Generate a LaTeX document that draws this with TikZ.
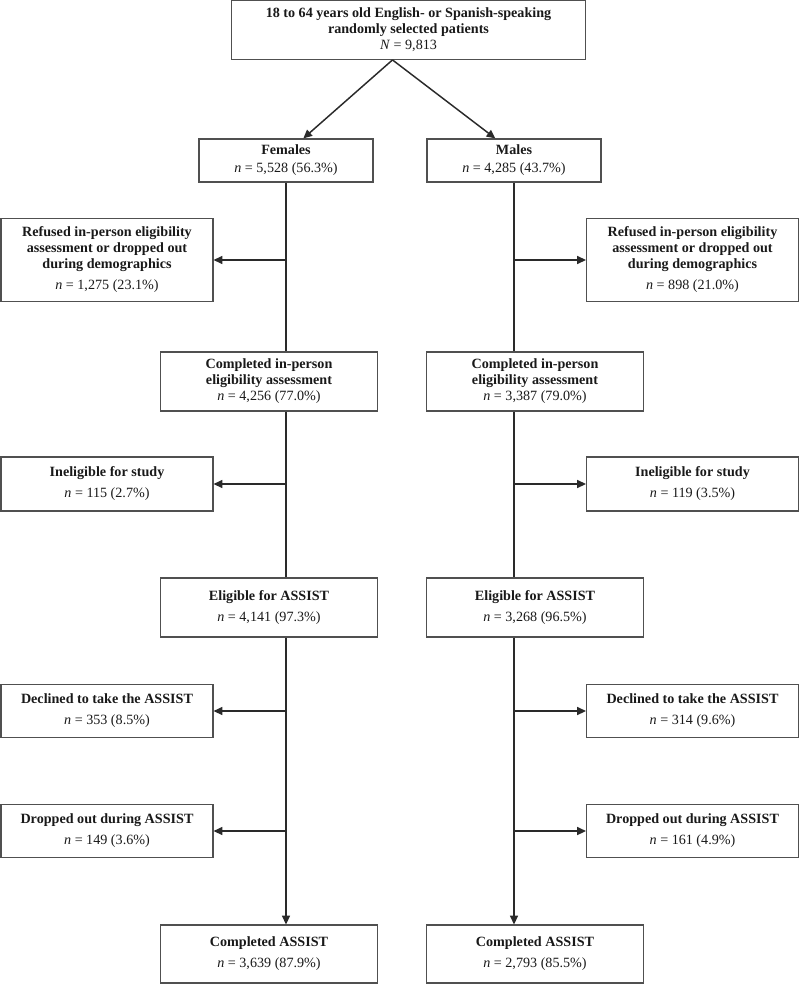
\documentclass[tikz,border=0pt]{standalone}
\usepackage{fontspec}
\setmainfont{Liberation Serif}
\usetikzlibrary{positioning, arrows.meta}
\definecolor{boxgray}{HTML}{505050}
\definecolor{linegray}{HTML}{2A2A2A}

\begin{document}
\begin{tikzpicture}[x=0.75pt, y=-0.75pt,
		box/.style={draw=boxgray, line width=0.9pt, align=center, inner sep=0pt, text=black!90, font=\fontsize{10.6}{12}\selectfont},
		sidebox/.style={box, minimum width=159pt},
		mainbox/.style={box, minimum width=163pt},
		sexbox/.style={box, minimum width=130.5pt, minimum height=32.25pt},
		flow/.style={draw=linegray, line width=1.1pt},
		arr/.style={flow, -{Triangle[length=6.5pt, width=6pt]}}]
			\useasboundingbox (0,0) rectangle (800,984);

			\node (top) [box, minimum width=266pt, minimum height=44pt] at (408.5,30) {\textbf{18 to 64 years old English- or Spanish-speaking}\\\textbf{randomly selected patients}\\\textit{N} = 9,813};

			\node (females) [sexbox] at (286,160.5) {\textbf{Females}\\[1.5pt]\textit{n} = 5,528 (56.3\%)};
			\node (males) [sexbox] at (514,160.5) {\textbf{Males}\\[1.5pt]\textit{n} = 4,285 (43.7\%)};

			\node (refF) [sidebox, minimum height=62.25pt] at (107,260) {\textbf{Refused in-person eligibility}\\\textbf{assessment or dropped out}\\\textbf{during demographics}\\[3.75pt]\textit{n} = 1,275 (23.1\%)};
			\node (refM) [sidebox, minimum height=62.25pt] at (692.5,260) {\textbf{Refused in-person eligibility}\\\textbf{assessment or dropped out}\\\textbf{during demographics}\\[3.75pt]\textit{n} = 898 (21.0\%)};

			\node (compF) [mainbox, minimum height=44.25pt] at (269,381.5) {\textbf{Completed in-person}\\\textbf{eligibility assessment}\\\textit{n} = 4,256 (77.0\%)};
			\node (compM) [mainbox, minimum height=44.25pt] at (535,381.5) {\textbf{Completed in-person}\\\textbf{eligibility assessment}\\\textit{n} = 3,387 (79.0\%)};

			\node (ineF) [sidebox, minimum height=40.5pt] at (107,484) {\textbf{Ineligible for study}\\[3.75pt]\textit{n} = 115 (2.7\%)};
			\node (ineM) [sidebox, minimum height=40.5pt] at (692.5,484) {\textbf{Ineligible for study}\\[3.75pt]\textit{n} = 119 (3.5\%)};

			\node (eligF) [mainbox, minimum height=44.25pt] at (269,607.5) {\textbf{Eligible for ASSIST}\\[3.75pt]\textit{n} = 4,141 (97.3\%)};
			\node (eligM) [mainbox, minimum height=44.25pt] at (535,607.5) {\textbf{Eligible for ASSIST}\\[3.75pt]\textit{n} = 3,268 (96.5\%)};

			\node (decF) [sidebox, minimum height=39.75pt] at (107,711) {\textbf{Declined to take the ASSIST}\\[3.75pt]\textit{n} = 353 (8.5\%)};
			\node (decM) [sidebox, minimum height=39.75pt] at (692.5,711) {\textbf{Declined to take the ASSIST}\\[3.75pt]\textit{n} = 314 (9.6\%)};

			\node (dropF) [sidebox, minimum height=39.75pt] at (107,831) {\textbf{Dropped out during ASSIST}\\[3.75pt]\textit{n} = 149 (3.6\%)};
			\node (dropM) [sidebox, minimum height=39.75pt] at (692.5,831) {\textbf{Dropped out during ASSIST}\\[3.75pt]\textit{n} = 161 (4.9\%)};

			\node (finF) [mainbox, minimum height=43.5pt] at (269,954) {\textbf{Completed ASSIST}\\[3.75pt]\textit{n} = 3,639 (87.9\%)};
			\node (finM) [mainbox, minimum height=43.5pt] at (535,954) {\textbf{Completed ASSIST}\\[3.75pt]\textit{n} = 2,793 (85.5\%)};

			% split by sex
			\draw[arr] ([xshift=-12pt]top.south) -- ([xshift=13pt]females.north);
			\draw[arr] ([xshift=-12pt]top.south) -- ([xshift=-14pt]males.north);

			% females
			\draw[flow] (females.south) -- (females.south |- compF.north);
			\draw[flow] (females.south |- compF.south) -- (females.south |- eligF.north);
			\draw[arr] (females.south |- eligF.south) -- (females.south |- finF.north);
			\draw[arr] (females.south |- refF.east) -- (refF.east);
			\draw[arr] (females.south |- ineF.east) -- (ineF.east);
			\draw[arr] (females.south |- decF.east) -- (decF.east);
			\draw[arr] (females.south |- dropF.east) -- (dropF.east);

			% males
			\draw[flow] (males.south) -- (males.south |- compM.north);
			\draw[flow] (males.south |- compM.south) -- (males.south |- eligM.north);
			\draw[arr] (males.south |- eligM.south) -- (males.south |- finM.north);
			\draw[arr] (males.south |- refM.west) -- (refM.west);
			\draw[arr] (males.south |- ineM.west) -- (ineM.west);
			\draw[arr] (males.south |- decM.west) -- (decM.west);
			\draw[arr] (males.south |- dropM.west) -- (dropM.west);
		\end{tikzpicture}
\end{document}
